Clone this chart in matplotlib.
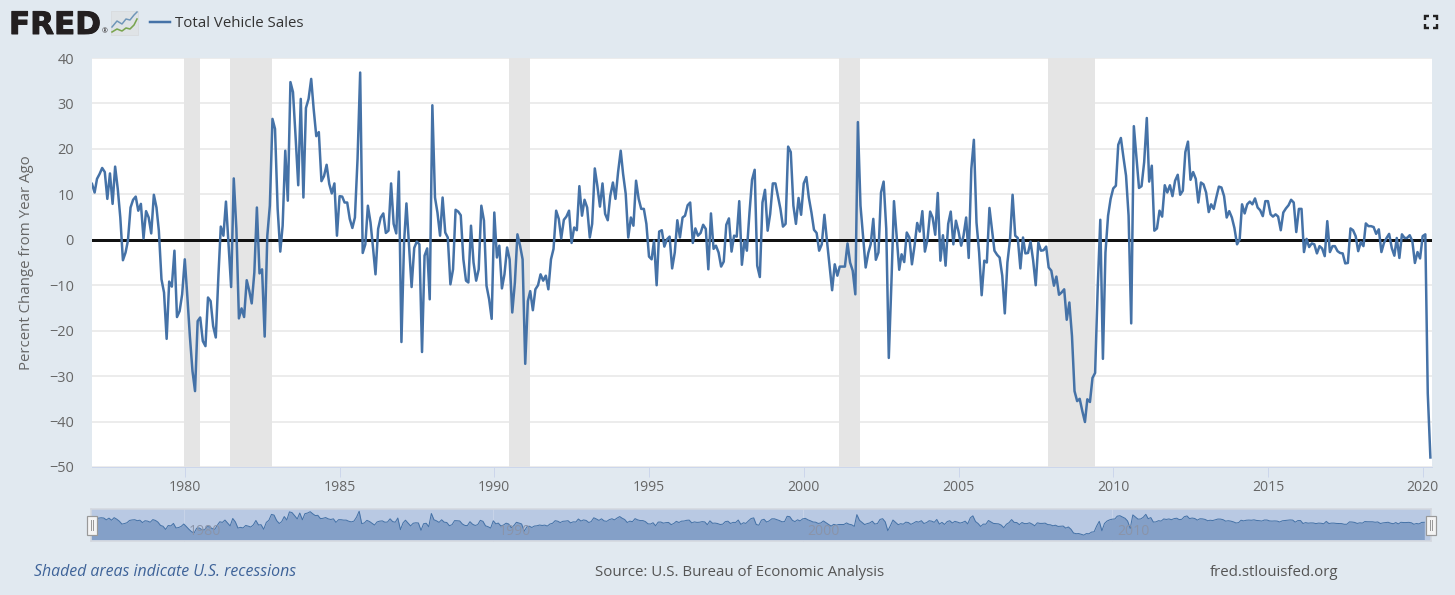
import matplotlib
matplotlib.use("Agg")
import matplotlib.pyplot as plt
import matplotlib.dates as mdates
import matplotlib.patheffects as pe
import pandas as pd
from matplotlib.patches import Rectangle

plt.rcParams['font.family'] = ['Open Sans', 'DejaVu Sans']

series_name = "Total Vehicle Sales"
y_label = "Percent Change from Year Ago"
start_month = "1977-01-01"
values = [
    12.3, 10.4, 13.4, 14.5, 15.8, 14.9, 9.0, 14.6, 7.9, 16.1, 11.2, 4.9,  # 1977
    -4.5, -2.8, -0.2, 7.1, 8.8, 9.5, 6.4, 7.9, 0.3, 6.3, 4.9, 1.4,  # 1978
    9.9, 7.1, 2.0, -8.7, -11.6, -21.8, -9.2, -10.3, -2.4, -17.0, -15.7, -12.0,  # 1979
    -4.3, -12.7, -21.2, -28.9, -33.3, -17.9, -17.1, -22.3, -23.4, -12.7, -13.5, -19.0,  # 1980
    -21.5, -7.9, 2.9, 0.9, 8.4, -1.3, -10.4, 13.5, 2.4, -17.3, -15.1, -17.0,  # 1981
    -8.9, -11.3, -14.0, -7.2, 7.1, -7.4, -6.5, -21.3, 0.9, 7.5, 26.6, 24.4,  # 1982
    6.8, -2.6, 3.1, 19.6, 8.6, 34.7, 32.5, 22.6, 12.0, 31.0, 9.3, 29.0,  # 1983
    31.0, 35.4, 28.8, 22.8, 23.7, 12.9, 14.0, 16.5, 12.3, 10.2, 12.4, 0.9,  # 1984
    9.6, 9.5, 8.2, 8.2, 4.6, 2.6, 4.9, 17.8, 36.8, -2.9, -1.0, 7.5,  # 1985
    3.8, -2.0, -7.6, 2.4, 4.9, 5.8, 1.5, 2.0, 12.4, 3.5, 1.4, 15.0,  # 1986
    -22.5, -0.6, 8.0, -1.3, -10.4, -1.8, -0.4, -1.0, -24.7, -3.5, -1.9, -13.1,  # 1987
    29.6, 9.3, 6.0, 0.9, 9.3, 1.6, 0.5, -9.8, -6.5, 6.6, 6.2, 5.4,  # 1988
    -4.3, -9.0, -9.4, 3.1, -5.0, -9.0, -6.5, 7.5, 4.2, -10.1, -13.1, -17.4,  # 1989
    6.0, -3.9, -1.3, -10.7, -7.6, -1.7, -4.3, -16.0, -9.4, 1.2, -1.3, -4.3,  # 1990
    -27.3, -13.5, -11.3, -15.5, -10.9, -10.0, -7.6, -9.0, -7.9, -10.9, -4.3, -2.0,  # 1991
    6.4, 4.6, 0.3, 4.4, 5.1, 6.4, -0.7, 2.7, 2.1, 11.8, 5.3, 8.8,  # 1992
    7.1, 0.5, 3.5, 15.7, 11.9, 7.3, 12.4, 5.7, 4.3, 9.7, 12.6, 9.0,  # 1993
    14.9, 19.6, 14.5, 10.1, 0.5, 4.9, 3.1, 13.0, 9.0, 6.8, 6.8, 3.5,  # 1994
    -3.7, -4.3, -0.2, -10.0, 1.8, 2.1, -1.5, 0.1, 0.7, -6.3, -2.8, 4.3,  # 1995
    0.5, 4.9, 5.3, 7.6, 8.2, -0.7, 2.5, 0.9, 1.5, 3.3, 2.4, -6.5,  # 1996
    5.8, -2.0, -1.3, -2.8, -5.9, -4.8, 3.3, 4.7, -2.6, 0.9, 0.7, 8.5,  # 1997
    -5.5, -0.2, -2.4, 6.0, 13.2, 15.4, -5.7, -8.2, 8.2, 11.0, 2.0, 5.7,  # 1998
    12.4, 12.4, 9.7, 6.8, 2.9, 3.5, 20.5, 19.3, 7.5, 3.5, 9.2, 5.5,  # 1999
    12.4, 13.8, 9.3, 6.0, 2.2, 1.5, -2.4, -1.0, 5.5, -0.2, -5.7, -11.1,  # 2000
    -5.4, -7.9, -5.9, -5.9, -5.9, -0.8, -5.0, -6.8, -12.0, 25.9, 7.5, 0.9,  # 2001
    -6.1, -2.9, -1.0, 4.6, -4.4, -2.8, 10.4, 12.8, 2.4, -26.0, -9.4, 8.5,  # 2002
    0.9, -6.6, -3.2, -4.9, 1.6, 0.5, -5.4, -1.3, 3.7, 1.8, 6.3, -2.6,  # 2003
    0.1, 6.2, 4.9, 1.1, 10.3, -4.6, 1.0, -5.7, 3.5, 6.2, -1.0, 4.2,  # 2004
    1.8, -1.3, 0.9, 4.9, -4.0, 15.6, 22.0, 3.8, -2.8, -12.2, -4.6, -5.0,  # 2005
    7.0, 2.0, -2.4, -3.3, -3.9, -7.9, -16.2, -5.0, 0.1, 9.9, 0.9, 0.4,  # 2006
    -6.3, 0.5, -3.0, -2.9, -0.4, -4.6, -10.0, -0.6, -2.4, -2.3, -1.5, -6.1,  # 2007
    -6.8, -10.1, -8.1, -12.1, -11.6, -10.9, -17.6, -13.8, -21.2, -33.3, -35.5, -35.0,  # 2008
    -37.7, -40.1, -35.1, -35.7, -30.4, -29.3, -10.9, 4.4, -26.2, -2.8, 5.3, 9.0,  # 2009
    11.3, 11.9, 20.9, 22.4, 18.2, 14.1, 5.3, -18.4, 25.0, 18.2, 11.4, 11.8,  # 2010
    17.1, 26.8, 12.8, 16.3, 2.0, 2.5, 6.4, 5.1, 12.0, 10.4, 12.0, 9.6,  # 2011
    13.0, 14.3, 9.9, 10.8, 19.3, 21.6, 13.2, 14.9, 13.4, 8.2, 12.6, 12.2,  # 2012
    10.4, 6.1, 7.8, 6.8, 9.3, 11.7, 11.5, 9.6, 4.9, 6.3, 4.9, 2.6,  # 2013
    -1.0, 0.1, 7.8, 5.8, 7.8, 8.4, 7.8, 9.1, 7.1, 6.5, 5.2, 8.5,  # 2014
    8.5, 5.6, 5.1, 5.6, 5.1, 2.1, 6.0, 6.9, 7.6, 8.8, 8.2, 1.7,  # 2015
    6.8, 6.8, -2.7, 0.2, -1.6, -0.8, -1.0, -3.0, -1.4, -1.9, -3.6, 4.1,  # 2016
    -2.7, -1.4, -1.4, -2.5, -2.9, -3.0, -5.2, -5.1, 2.5, 2.1, 0.8, -2.5,  # 2017
    -0.5, -1.4, 3.6, 3.0, 3.0, 2.8, 1.3, 2.3, -2.7, -0.7, 0.4, 1.3,  # 2018
    -1.8, -3.5, 0.4, -4.0, 1.2, 0.4, 0.4, 1.0, -0.3, -5.1, -2.7, -4.1,  # 2019
    0.8, 1.2, -33.8, -47.9,  # 2020
]
nav_drop_last = 2
y_ticks = [40, 30, 20, 10, 0, -10, -20, -30, -40, -50]
x_years = [1980, 1985, 1990, 1995, 2000, 2005, 2010, 2015, 2020]
nav_years = [1980, 1990, 2000, 2010]
recessions = [("1980-01-01", "1980-07-01"), ("1981-07-01", "1982-11-01"),
              ("1990-07-01", "1991-03-01"), ("2001-03-01", "2001-11-01"),
              ("2007-12-01", "2009-06-01")]

W, H = 1455, 595
BG = "#e1e9f0"
LINE = "#4572a7"
dates = pd.date_range(start_month, periods=len(values), freq="MS")
fs = lambda px: px * 0.72


def box(l, t, r, b):
    return [l / W, 1 - b / H, (r - l) / W, (b - t) / H]


fig = plt.figure(figsize=(W / 100, H / 100), dpi=100, facecolor=BG)

# main plot
ax = fig.add_axes(box(92, 58, 1432, 467), facecolor="white")
xlim = (pd.Timestamp("1977-01-01"), pd.Timestamp("2020-04-20"))
ax.set_xlim(*xlim)
ax.set_ylim(-50, 40)
ax.set_axisbelow(True)
ax.grid(axis="y", color="#ececec", lw=fs(2))
for s in ax.spines.values():
    s.set_visible(False)
ax.spines["bottom"].set_visible(True)
ax.spines["bottom"].set_color("#ccd6eb")
ax.spines["bottom"].set_linewidth(fs(1))
for a, b in recessions:
    ax.axvspan(pd.Timestamp(a) - pd.Timedelta(days=10), pd.Timestamp(b), color="#e5e5e5",
               lw=0, zorder=1)
ax.axhline(0, color="#111111", lw=fs(3), zorder=2)
ax.plot(dates, values, color=LINE, lw=fs(2.5), zorder=3, solid_joinstyle="round")
ax.set_yticks(y_ticks)
ax.set_xticks([pd.Timestamp(f"{y}-01-01") for y in x_years])
ax.xaxis.set_major_formatter(mdates.DateFormatter("%Y"))
ax.tick_params(axis="x", length=fs(10), width=fs(1), color="#ccd6eb",
               labelcolor="#666666", labelsize=fs(14), pad=fs(3))
ax.tick_params(axis="y", length=0, labelcolor="#666666", labelsize=fs(14.5), pad=fs(18))
fig.text(27 / W, 1 - 262.5 / H, y_label, rotation=90, ha="center", va="center",
         color="#666666", fontsize=fs(15))

# navigator
nav = fig.add_axes(box(91, 509, 1431, 541), facecolor="#b9c9e3")
nav.set_xlim(*xlim)
nav.set_ylim(-59, 44)
for s in nav.spines.values():
    s.set_edgecolor("#d3d7de")
    s.set_linewidth(fs(1.5))
nav.set_xticks([pd.Timestamp(f"{y}-01-01") for y in nav_years])
nav.set_xticklabels([])
nav.set_yticks([])
nav.tick_params(axis="x", direction="in", length=32 * 0.72, width=fs(1), color="#c7d3e8")
nav.fill_between(dates[:-nav_drop_last], values[:-nav_drop_last], -56, color="#84a0c8",
                 lw=0, zorder=2)
nav.plot(dates[:-nav_drop_last], values[:-nav_drop_last], color=LINE, lw=fs(1), zorder=3)
nav.axhspan(-59, -56, color="#b9c9e3", lw=0, zorder=2.5)
for y in nav_years:
    nav.annotate(str(y), xy=(pd.Timestamp(f"{y}-01-01"), 0), xycoords=("data", "axes fraction"),
                 xytext=(fs(5), fs(2)), textcoords="offset points", fontsize=fs(14),
                 color="#8a94a9", ha="left", va="bottom", zorder=4)

# overlay in pixel coordinates for the page furniture
ov = fig.add_axes([0, 0, 1, 1], facecolor="none")
ov.set_xlim(0, W)
ov.set_ylim(H, 0)
ov.axis("off")

for x0 in (86.5, 1425.5):
    ov.add_patch(Rectangle((x0, 515.5), 10, 19, fc="#f4f4f4", ec="#999999", lw=fs(1.2)))
    for dx in (4, 6.5):
        ov.plot([x0 + dx, x0 + dx], [520, 530], color="#999999", lw=fs(1))

ov.text(9, 34, "FRED", fontsize=fs(31), fontweight="bold", family=["DejaVu Sans"],
        color="#231f20", ha="left", va="baseline",
        path_effects=[pe.withStroke(linewidth=fs(1), foreground="#231f20")])
ov.text(105, 32, "®", fontsize=fs(7), color="#231f20", ha="center", va="center")
ov.add_patch(Rectangle((111, 11), 27, 24, fc="#dfe3e6", ec="#d9dcdf", lw=fs(1)))
logo_x = [112, 117, 122, 126, 130, 134, 137]
logo_blue = [27, 21, 24, 19, 20, 15, 12]
logo_green = [32, 29, 31, 28, 29, 25, 19]
ov.plot(logo_x, logo_blue, color="#6f96b8", lw=fs(1.5))
ov.plot(logo_x, logo_green, color="#7aa54f", lw=fs(1.6))

ov.plot([150, 170], [22, 22], color=LINE, lw=fs(2.5))
ov.text(175, 23.5, series_name, fontsize=fs(15), color="#333333", ha="left", va="center")

c = "#222222"
for cx, sx in ((1425, 1), (1437, -1)):
    for cy, sy in ((15.5, 1), (27.5, -1)):
        ov.plot([cx + sx * 4, cx, cx], [cy, cy, cy + sy * 4], color=c, lw=fs(2.4),
                solid_joinstyle="miter", solid_capstyle="butt")

ov.text(34, 572, "Shaded areas indicate U.S. recessions", fontsize=fs(15.9), style="italic",
        color="#3e6399", ha="left", va="center")
ov.text(595, 572, "Source: U.S. Bureau of Economic Analysis", fontsize=fs(15),
        color="#555555", ha="left", va="center")
ov.text(1210, 572, "fred.stlouisfed.org", fontsize=fs(15), color="#555555", ha="left", va="center")

fig.savefig("out.png", dpi=100, facecolor=BG)
